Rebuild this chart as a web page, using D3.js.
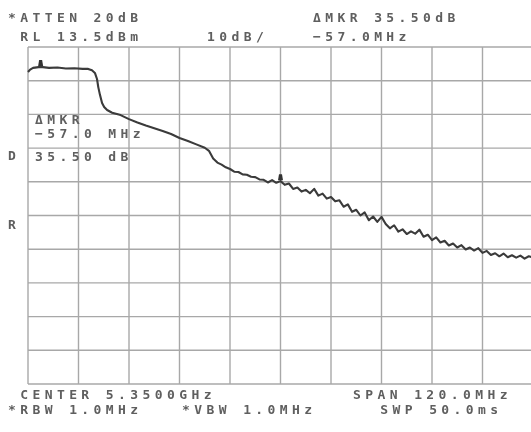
<!DOCTYPE html>
<html>
<head>
<meta charset="utf-8">
<script src="https://cdn.jsdelivr.net/npm/d3@7"></script>
<style>
  body { margin: 0; background: #fff; }
  text { font-family: "DejaVu Sans Mono", monospace; fill: #5e5e5e; }
</style>
</head>
<body>
<script>
// spectrum analyzer screen, 10 div x 10 div

var width = 531;
var height = 432;

var centerMHz = 5350;
var spanMHz = 120;
var refLevel = 13.5;   // dBm, top line
var dbPerDiv = 10;

// trace: frequency offset from center (MHz) and level (dBm)
var traceFreq = [ -60, -59.5, -58.8, -57, -55, -53, -51, -49, -47, -45.7,
  -44.8, -44.1, -43.6, -43.3, -42.9, -42.4, -41.9, -41.2, -40, -38,
  -36, -34, -32, -30, -28, -26, -24, -22, -20, -18,
  -17, -16, -15, -14, -13, -12, -11, -10, -9, -8,
  -7, -6, -5, -4, -3, -2, -1, 0, 1, 2,
  3, 4, 5, 6, 7, 8, 9, 10, 11, 12,
  13, 14, 15, 16, 17, 18, 19, 20, 21, 22,
  23, 24, 25, 26, 27, 28, 29, 30, 31, 32,
  33, 34, 35, 36, 37, 38, 39, 40, 41, 42,
  43, 44, 45, 46, 47, 48, 49, 50, 51, 52,
  53, 54, 55, 56, 57, 58, 59, 60 ];

var traceLevel = [ 6.1, 6.8, 7.3, 7.6, 7.3, 7.4, 7.1, 7.2, 7.0, 7.0,
  6.6, 5.8, 4.0, 1.6, -0.7, -3.1, -4.3, -5.2, -6.0, -6.7,
  -7.9, -8.9, -9.8, -10.6, -11.4, -12.3, -13.5, -14.4, -15.4, -16.4,
  -17.3, -19.6, -20.8, -21.4, -22.2, -22.7, -23.5, -23.6, -24.3, -24.4,
  -25.0, -25.1, -25.8, -25.9, -26.7, -26.0, -26.8, -26.3, -27.4, -27.0,
  -28.6, -28.2, -29.4, -28.9, -29.9, -28.6, -30.6, -30.0, -31.5, -31.0,
  -32.3, -32.0, -33.9, -33.2, -35.4, -34.8, -36.5, -35.6, -37.9, -36.8,
  -38.4, -36.9, -39.0, -40.3, -39.4, -41.3, -40.6, -42.0, -41.2, -41.9,
  -40.7, -42.8, -42.2, -43.8, -43.0, -44.5, -44.0, -45.4, -44.8, -46.0,
  -45.3, -46.6, -46.0, -46.9, -46.2, -47.6, -47.0, -48.2, -47.7, -48.6,
  -47.8, -48.9, -48.3, -49.0, -48.4, -49.3, -48.6, -49.0 ];

var markerFreq = [ -57, 0 ];

var topLeftLabels = [ "*ATTEN 20dB", " RL 13.5dBm" ];
var topMidLabel = "10dB/";
var topRightLabels = [ "\u0394MKR 35.50dB", "\u221257.0MHz" ];
var bottomLeftLabels = [ " CENTER 5.3500GHz", "*RBW 1.0MHz" ];
var vbwLabel = "*VBW 1.0MHz";
var bottomRightLabels = [ "SPAN 120.0MHz", " SWP 50.0ms" ];
var boxLabels = [ "\u0394MKR", "\u221257.0 MHz", "35.50 dB" ];
var sideLabels = [ "D", "R" ];

// plot box (right edge runs just past the picture)
var plotLeft = 28, plotRight = 533, plotTop = 47, plotBottom = 384;

var xScale = d3.scaleLinear()
               .domain([-spanMHz / 2, spanMHz / 2])
               .range([plotLeft, plotRight]);

var yScale = d3.scaleLinear()
               .domain([refLevel - 10 * dbPerDiv, refLevel])
               .range([plotBottom, plotTop]);

var svg = d3.select("body")
            .append("svg")
            .attr("width", width)
            .attr("height", height);

svg.append("defs")
   .append("filter")
   .attr("id", "soft")
   .append("feGaussianBlur")
   .attr("stdDeviation", 0.45);

var screen = svg.append("g").attr("filter", "url(#soft)");

// graticule
var gridX = d3.range(0, 11).map(function(i){ return -spanMHz / 2 + i * spanMHz / 10; });
var gridY = d3.range(0, 11).map(function(i){ return refLevel - i * dbPerDiv; });

screen.selectAll("line.vx")
   .data(gridX)
   .enter()
   .append("line")
   .attr("class", "vx")
   .attr("x1", function(d){ return xScale(d); })
   .attr("x2", function(d){ return xScale(d); })
   .attr("y1", plotTop)
   .attr("y2", plotBottom)
   .attr("stroke", "#a8a8a8")
   .attr("stroke-width", 1.4);

screen.selectAll("line.hy")
   .data(gridY)
   .enter()
   .append("line")
   .attr("class", "hy")
   .attr("x1", plotLeft)
   .attr("x2", plotRight)
   .attr("y1", function(d){ return yScale(d); })
   .attr("y2", function(d){ return yScale(d); })
   .attr("stroke", "#a8a8a8")
   .attr("stroke-width", 1.4);

// trace
var line = d3.line()
             .x(function(d, i){ return xScale(traceFreq[i]); })
             .y(function(d){ return yScale(d); });

screen.append("path")
   .attr("d", line(traceLevel))
   .attr("fill", "none")
   .attr("stroke", "#3a3a3a")
   .attr("stroke-width", 2.1)
   .attr("stroke-linejoin", "round");

// markers sit on the trace
screen.selectAll("path.mkr")
   .data(markerFreq)
   .enter()
   .append("path")
   .attr("class", "mkr")
   .attr("d", function(d){
     var idx = traceFreq.indexOf(d);
     var x = xScale(d), y = yScale(traceLevel[idx]);
     return "M" + (x - 2.5) + "," + (y - 1) + "L" + (x + 2.5) + "," + (y - 1) +
            "L" + (x + 1.5) + "," + (y - 7) + "L" + (x - 1.5) + "," + (y - 7) + "Z";
   })
   .attr("fill", "#333");

// annotation text
function label(str, x, y){
  screen.append("text")
     .text(str)
     .attr("x", x)
     .attr("y", y)
     .attr("font-size", "13px")
     .attr("font-weight", "bold")
     .attr("letter-spacing", "4.4px")
     .attr("xml:space", "preserve")
     .style("white-space", "pre");
}

label(topLeftLabels[0], 8, 22);
label(topLeftLabels[1], 8, 41);
label(topMidLabel, 207, 41);
label(topRightLabels[0], 313, 22);
label(topRightLabels[1], 313, 41);
label(bottomLeftLabels[0], 8, 399);
label(bottomLeftLabels[1], 8, 414);
label(vbwLabel, 182, 414);
label(bottomRightLabels[0], 353, 399);
label(bottomRightLabels[1], 368, 414);
label(boxLabels[0], 35, 124);
label(boxLabels[1], 35, 138);
label(boxLabels[2], 35, 161);

screen.selectAll("text.side")
   .data(sideLabels)
   .enter()
   .append("text")
   .attr("class", "side")
   .text(function(d){ return d; })
   .attr("x", 8)
   .attr("y", function(d, i){ return i === 0 ? 160 : 229; })
   .attr("font-size", "13px")
   .attr("font-weight", "bold");
</script>
</body>
</html>
